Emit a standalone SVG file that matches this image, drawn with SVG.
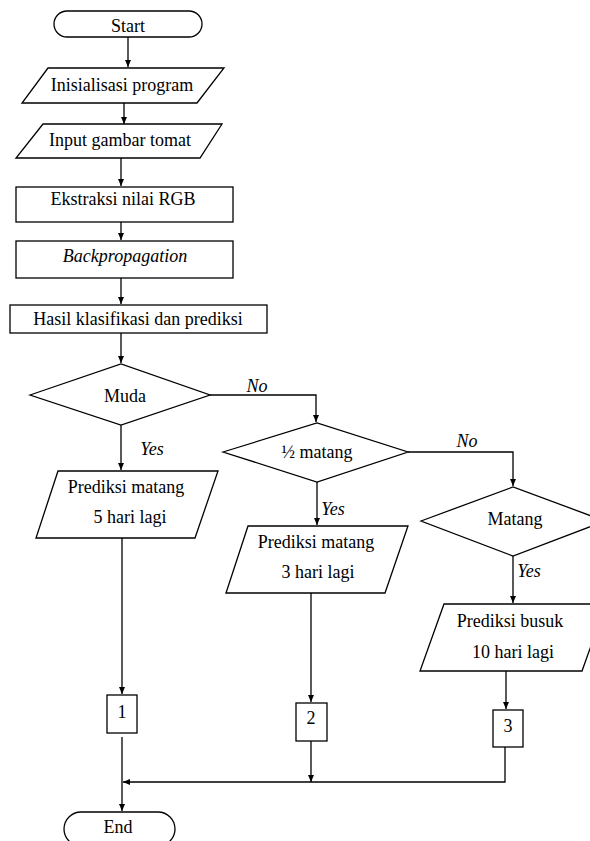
<svg xmlns="http://www.w3.org/2000/svg" width="590" height="841" viewBox="0 0 590 841" font-family="Liberation Serif, Times New Roman, serif">
<style>
.s{fill:#fff;stroke:#000;stroke-width:1.3}
.t{font-family:"Liberation Serif",serif;font-size:18px;fill:#000;text-anchor:middle}
.i{font-style:italic}
.c{fill:none;stroke:#000;stroke-width:1.3}
</style>
<defs>
<marker id="a" markerUnits="userSpaceOnUse" markerWidth="8" markerHeight="8" refX="7" refY="4" orient="auto">
<path d="M0,1 L7,4 L0,7 Z" fill="#000"/>
</marker>
</defs>
<rect width="590" height="841" fill="#fff"/>
<g id="connectors">
<path class="c" d="M128,37 V67" marker-end="url(#a)"/>
<path class="c" d="M124,103 V124" marker-end="url(#a)"/>
<path class="c" d="M121,158 V186" marker-end="url(#a)"/>
<path class="c" d="M121,222 V240" marker-end="url(#a)"/>
<path class="c" d="M121,278 V304" marker-end="url(#a)"/>
<path class="c" d="M121,333 V363" marker-end="url(#a)"/>
<path class="c" d="M210,395 H316 V422" marker-end="url(#a)"/>
<path class="c" d="M121,425 V470" marker-end="url(#a)"/>
<path class="c" d="M408,452 H513 V486" marker-end="url(#a)"/>
<path class="c" d="M317,482 V525" marker-end="url(#a)"/>
<path class="c" d="M513,556 V603" marker-end="url(#a)"/>
<path class="c" d="M122,538 V694" marker-end="url(#a)"/>
<path class="c" d="M311,593 V702" marker-end="url(#a)"/>
<path class="c" d="M506,671 V709" marker-end="url(#a)"/>
<path class="c" d="M122,737 V811" marker-end="url(#a)"/>
<path class="c" d="M311,741 V782" marker-end="url(#a)"/>
<path class="c" d="M505,747 V782 H123" marker-end="url(#a)"/>
<text class="t i" x="257" y="392">No</text>
<text class="t i" x="467" y="447">No</text>
<text class="t i" x="152" y="455">Yes</text>
<text class="t i" x="333" y="515">Yes</text>
<text class="t i" x="529" y="577">Yes</text>
</g>
<g id="start">
<rect class="s" x="54" y="11" width="148" height="26" rx="13"/>
<text class="t" x="128" y="32">Start</text>
</g>
<g id="init">
<polygon class="s" points="48,68 224,68 197,103 22,103"/>
<text class="t" x="122" y="91">Inisialisasi program</text>
</g>
<g id="input">
<polygon class="s" points="43,124 222,124 200,158 16,158"/>
<text class="t" x="120" y="146">Input gambar tomat</text>
</g>
<g id="ekstraksi">
<rect class="s" x="16" y="187" width="217" height="35"/>
<text class="t" x="123" y="205">Ekstraksi nilai RGB</text>
</g>
<g id="backprop">
<rect class="s" x="16" y="241" width="217" height="37"/>
<text class="t i" x="125" y="262">Backpropagation</text>
</g>
<g id="hasil">
<rect class="s" x="10" y="305" width="257" height="28"/>
<text class="t" x="138" y="325">Hasil klasifikasi dan prediksi</text>
</g>
<g id="muda">
<polygon class="s" points="30,395 121,364 210,395 121,425"/>
<text class="t" x="125" y="402">Muda</text>
</g>
<g id="setengah">
<polygon class="s" points="223,452 317,423 408,452 317,482"/>
<text class="t" x="317" y="458">½ matang</text>
</g>
<g id="matang">
<polygon class="s" points="421,521 513,487 605,521 513,556"/>
<text class="t" x="515" y="525">Matang</text>
</g>
<g id="pred5">
<polygon class="s" points="58,471 218,471 195,538 36,538"/>
<text class="t" x="126" y="493">Prediksi matang</text>
<text class="t" x="130" y="523">5 hari lagi</text>
</g>
<g id="pred3">
<polygon class="s" points="248,526 408,526 385,593 226,593"/>
<text class="t" x="316" y="548">Prediksi matang</text>
<text class="t" x="318" y="578">3 hari lagi</text>
</g>
<g id="busuk">
<polygon class="s" points="444,604 606,604 582,671 420,671"/>
<text class="t" x="510" y="627">Prediksi busuk</text>
<text class="t" x="513" y="658">10 hari lagi</text>
</g>
<g id="c1">
<rect class="s" x="107" y="695" width="30" height="38"/>
<text class="t" x="122" y="718">1</text>
</g>
<g id="c2">
<rect class="s" x="296" y="703" width="31" height="38"/>
<text class="t" x="311" y="724">2</text>
</g>
<g id="c3">
<rect class="s" x="493" y="710" width="30" height="37"/>
<text class="t" x="508" y="732">3</text>
</g>
<g id="end">
<rect class="s" x="64" y="812" width="111" height="34" rx="17"/>
<text class="t" x="118" y="833">End</text>
</g>
</svg>
